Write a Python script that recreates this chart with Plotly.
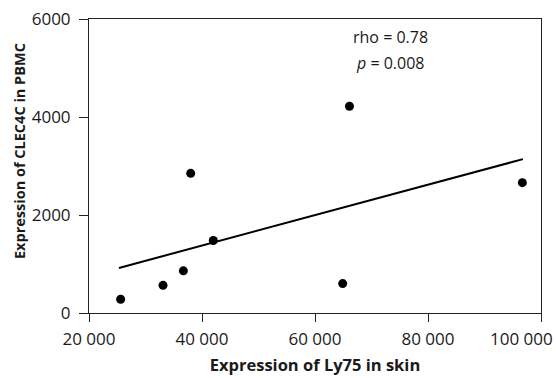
import plotly.graph_objects as go

# Data
ly75_skin = [25600, 33100, 36700, 38000, 42000, 64900, 66100, 96700]
clec4c_pbmc = [280, 565, 860, 2850, 1480, 600, 4220, 2660]

fit_x = [25300, 96800]
fit_y = [920, 3140]

x_tickvals = [20000, 40000, 60000, 80000, 100000]
x_ticktext = ["20 000", "40 000", "60 000", "80 000", "100 000"]
y_tickvals = [0, 2000, 4000, 6000]
y_ticktext = ["0", "2000", "4000", "6000"]

FONT = "Open Sans"
AX = "#222222"

fig = go.Figure()
fig.add_trace(go.Scatter(x=fit_x, y=fit_y, mode="lines",
                         line=dict(color="black", width=2), showlegend=False))
fig.add_trace(go.Scatter(x=ly75_skin, y=clec4c_pbmc, mode="markers",
                         marker=dict(color="black", size=9), showlegend=False))

fig.update_layout(
    width=556, height=378,
    margin=dict(l=89, r=15, t=19, b=65, autoexpand=False),
    plot_bgcolor="white", paper_bgcolor="white",
    font=dict(family=FONT, size=17, color="#1a1a1a"),
    showlegend=False,
)
# last tick label is placed separately (shifted left so it stays inside the page, as in the reference)
fig.update_xaxes(range=[20000, 100000], tickvals=x_tickvals, ticktext=x_ticktext[:-1] + [""],
                 showgrid=False, zeroline=False, showline=True, linecolor=AX, linewidth=1,
                 mirror=True, ticks="outside", ticklen=8, tickcolor=AX,
                 tickfont=dict(size=17), ticklabelstandoff=3,
                 automargin=False,
                 title=dict(text="<b>Expression of Ly75 in skin</b>", font=dict(size=16.5), standoff=10))
fig.update_yaxes(range=[0, 6000], tickvals=y_tickvals, ticktext=y_ticktext,
                 showgrid=False, zeroline=False, showline=True, linecolor=AX, linewidth=1,
                 mirror=True, ticks="outside", ticklen=9, tickcolor=AX,
                 tickfont=dict(size=17), ticklabelstandoff=5, automargin=False)

fig.add_annotation(text=x_ticktext[-1], xref="paper", yref="paper",
                   x=(555 - 89) / 452, y=(313 - 338) / 294, xanchor="right", yanchor="middle",
                   showarrow=False, font=dict(size=17, family=FONT))
fig.add_annotation(text="<b>Expression of CLEC4C in PBMC</b>", xref="paper", yref="paper",
                   x=(19.5 - 89) / 452, y=(313 - 151.5) / 294, xanchor="center", yanchor="middle",
                   textangle=-90, showarrow=False, font=dict(size=14.5, family=FONT))
fig.add_annotation(text="rho = 0.78", xref="paper", yref="paper",
                   x=(390 - 89) / 452, y=(313 - 37) / 294, xanchor="center", yanchor="middle",
                   showarrow=False, font=dict(size=16, family=FONT))
fig.add_annotation(text="<i>p</i> = 0.008", xref="paper", yref="paper",
                   x=(390 - 89) / 452, y=(313 - 63) / 294, xanchor="center", yanchor="middle",
                   showarrow=False, font=dict(size=16, family=FONT))

fig.write_html("out.html")
